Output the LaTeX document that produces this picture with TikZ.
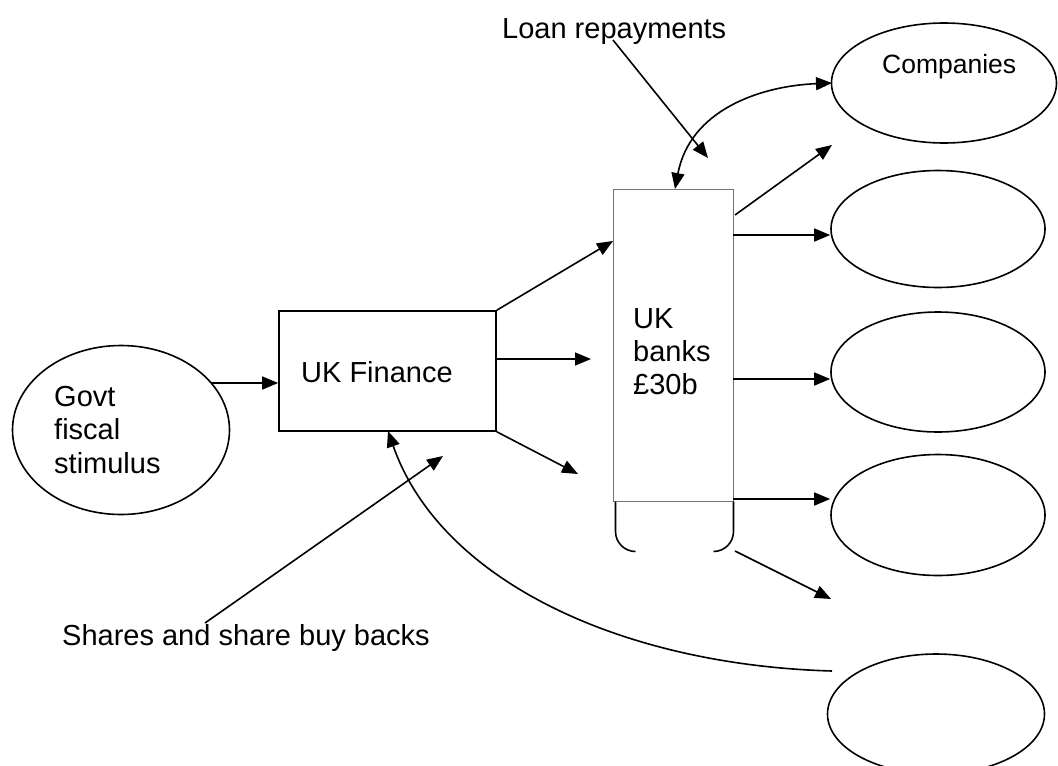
\documentclass[tikz,border=0pt]{standalone}
\usepackage{fontspec}
\setmainfont{Liberation Sans}
\usetikzlibrary{arrows.meta,shapes.geometric}
\begin{document}
\begin{tikzpicture}[x=1pt,y=-1pt,
  every node/.style={font=\fontsize{29}{33}\selectfont},
  oval/.style={draw,ellipse,line width=1.6pt,inner sep=0pt},
  box/.style={draw,line width=1.6pt,inner sep=0pt},
  thinbox/.style={draw=black!55,line width=1pt,inner sep=0pt},
  arr/.style={line width=1.6pt,-{Triangle[length=16pt,width=13pt]}},
  dblarr/.style={line width=1.6pt,{Triangle[length=16pt,width=13pt]}-{Triangle[length=16pt,width=13pt]}},
  lbl/.style={anchor=base west,inner sep=0pt}]
\useasboundingbox[fill=white] (0,0) rectangle (1058,766);

% shapes
\node[oval,minimum width=217pt,minimum height=169pt] (govt) at (121,430) {};
\node[box,minimum width=217pt,minimum height=120pt] (fin) at (387.5,371) {};
\node[thinbox,minimum width=120pt,minimum height=312pt] (banks) at (673,345) {};
\node[oval,minimum width=225pt,minimum height=120pt] (comp) at (944,83) {};
\node[oval,minimum width=214pt,minimum height=117pt] (e2) at (938,229) {};
\node[oval,minimum width=214pt,minimum height=120pt] (e3) at (938,372) {};
\node[oval,minimum width=214pt,minimum height=121pt] (e4) at (938,515) {};
\node[oval,minimum width=217pt,minimum height=120pt] (e5) at (936,714) {};

% texts
\node[lbl] (g1) at (54,406) {Govt};
\node[lbl] (g2) at (54,439) {fiscal};
\node[lbl] (g3) at (54,473) {stimulus};
\node[lbl] (fintxt) at (301,382) {UK Finance};
\node[lbl] (b1) at (633,328) {UK};
\node[lbl] (b2) at (633,361) {banks};
\node[lbl] (b3) at (633,394) {£30b};
\node[lbl,font=\fontsize{26.5}{30}\selectfont] (comptxt) at (882,73) {Companies};
\node[lbl] (loan) at (502,38) {Loan repayments};
\node[lbl] (shares) at (62,645) {Shares and share buy backs};

% bracket under banks
\draw[line width=1.6pt] (banks.south west) ++(3,0) -- ++(0,30) arc[start angle=180,end angle=90,radius=20];
\draw[line width=1.6pt] (banks.south east) -- ++(0,30) arc[start angle=0,end angle=90,radius=20];

% coordinates
\coordinate (ga) at (211,383);
\coordinate (fa1) at (613,241);
\coordinate (fa2s) at (496,359);
\coordinate (fa2) at (591,359);
\coordinate (fa3) at (578,474);
\coordinate (ba1s) at (735,215);
\coordinate (ba1) at (832,145);
\coordinate (ba2s) at (733,235);
\coordinate (ba3s) at (733,379);
\coordinate (ba4s) at (733,499);
\coordinate (ba5s) at (735,551);
\coordinate (ba5) at (831,599);
\coordinate (loanS) at (613,40);
\coordinate (loanE) at (708,158);
\coordinate (shS) at (205,623);
\coordinate (shE) at (443,456);
\coordinate (c5) at (832,671);
\coordinate (finB) at (388,431);
\coordinate (compW) at (832,83);
\coordinate (bankT) at (675,189);

% connectors
\draw[arr] (ga) -- (fin.west |- ga);
\draw[arr] (fin.north east) -- (fa1);
\draw[arr] (fa2s) -- (fa2);
\draw[arr] (fin.south east) -- (fa3);
\draw[arr] (ba1s) -- (ba1);
\draw[arr] (ba2s) -- (e2.west |- ba2s);
\draw[arr] (ba3s) -- (e3.west |- ba3s);
\draw[arr] (ba4s) -- (e4.west |- ba4s);
\draw[arr] (ba5s) -- (ba5);
\draw[arr] (loanS) -- (loanE);
\draw[arr] (shS) -- (shE);
\draw[arr] (c5) .. controls (620,665) and (440,580) .. (finB);
\draw[dblarr] (compW) .. controls (760,86) and (690,110) .. (bankT);
\end{tikzpicture}
\end{document}
